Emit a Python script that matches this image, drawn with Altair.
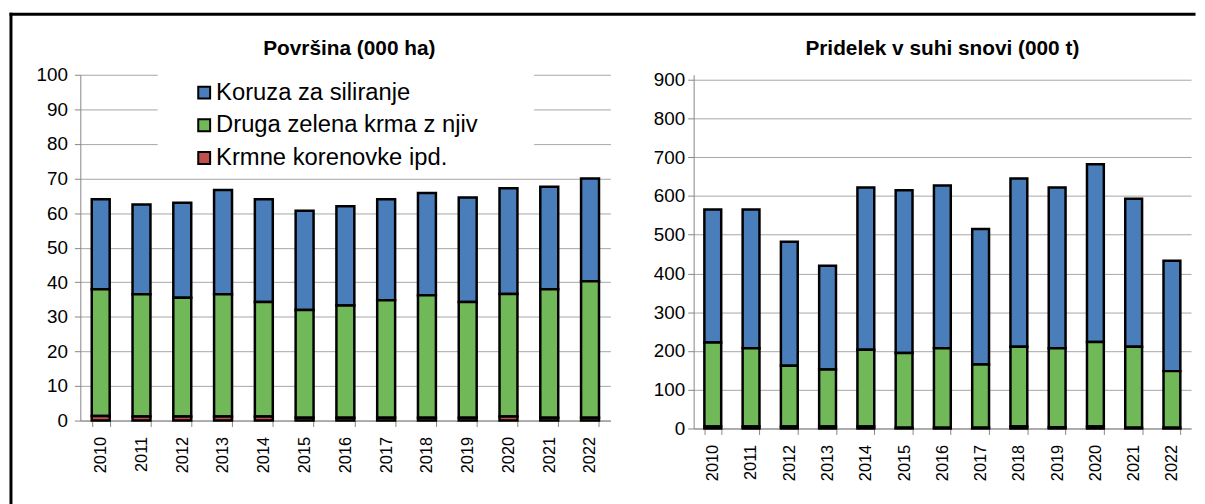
import altair as alt
import pandas as pd

years = [str(y) for y in range(2010, 2023)]
series = ["Koruza za siliranje", "Druga zelena krma z njiv", "Krmne korenovke ipd."]
colors = ["#4a7ebb", "#70b858", "#c0504d"]

# Površina (000 ha)
area_koruza = [26.0, 26.0, 27.5, 30.2, 29.7, 28.7, 28.7, 29.2, 29.6, 30.2, 30.6, 29.6, 29.7]
area_druga = [36.7, 35.3, 34.3, 35.3, 33.1, 31.2, 32.5, 34.0, 35.4, 33.5, 35.4, 37.2, 39.5]
area_krmne = [1.3, 1.2, 1.2, 1.2, 1.2, 0.8, 0.8, 0.8, 0.8, 0.8, 1.2, 0.8, 0.8]

# Pridelek v suhi snovi (000 t)
yield_koruza = [343, 358, 320, 268, 419, 420, 420, 350, 434, 415, 459, 382, 285]
yield_druga = [217, 202, 157, 147, 198, 193, 205, 163, 206, 204, 218, 209, 146]
yield_krmne = [5, 5, 5, 5, 5, 2, 2, 2, 5, 3, 5, 2, 2]

title_left = "Površina (000 ha)"
title_right = "Pridelek v suhi snovi (000 t)"
FONT = "Liberation Sans"


def long_df(kor, dru, krm):
    rows = []
    for i, yr in enumerate(years):
        for s, v, o in zip(series, (kor[i], dru[i], krm[i]), (2, 1, 0)):
            rows.append({"year": yr, "series": s, "value": v, "ord": o})
    return pd.DataFrame(rows)


one = pd.DataFrame({"k": [0]})

FRAME_X = -70
FRAME_Y = -61


def panel(df, title, ymax, ytop, step, w, h, legend, title_x, ylabpad, frame=False, cover=None):
    x = alt.X("year:N", sort=years, title=None,
              scale=alt.Scale(paddingInner=0.56, paddingOuter=0.28),
              axis=alt.Axis(labelAngle=270, labelFontSize=16.5, labelFont=FONT,
                            labelColor="black", tickBand="extent", tickSize=6,
                            tickColor="#868686", domainColor="#868686", labelPadding=10,
                            grid=False))
    y = alt.Y("value:Q", stack="zero", title=None,
              scale=alt.Scale(domain=[0, ytop], nice=False, zero=True),
              axis=alt.Axis(values=list(range(0, ymax + 1, step)), labelFontSize=19,
                            labelFont=FONT, labelColor="black", tickSize=6,
                            tickColor="#868686", domainColor="#868686",
                            gridColor="#a6a6a6", labelPadding=ylabpad, grid=True))
    layers = []
    if cover is not None:
        layers.append(
            alt.Chart(one).mark_rect(color="white").encode(
                x=alt.value(cover[0]), x2=alt.value(cover[1]),
                y=alt.value(cover[2]), y2=alt.value(cover[3]))
        )
    bars = alt.Chart(df).mark_bar(stroke="black", strokeWidth=2.5).encode(
        x=x, y=y,
        color=alt.Color("series:N", scale=alt.Scale(domain=series, range=colors),
                        legend=legend),
        order=alt.Order("ord:Q", sort="ascending"),
    )
    layers.append(bars)
    layers.append(
        alt.Chart(one).mark_text(text=title, font=FONT, fontSize=21, fontWeight="bold",
                                 align="center", baseline="middle", color="black").encode(
            x=alt.value(title_x), y=alt.value(-26))
    )
    if frame:
        layers.append(
            alt.Chart(one).mark_rule(color="black", strokeWidth=3, strokeCap="square").encode(
                x=alt.value(FRAME_X), x2=alt.value(1124), y=alt.value(FRAME_Y))
        )
        layers.append(
            alt.Chart(one).mark_rule(color="black", strokeWidth=3, strokeCap="square").encode(
                x=alt.value(FRAME_X), y=alt.value(FRAME_Y), y2=alt.value(445))
        )
    return alt.layer(*layers).properties(width=w, height=h)


legend = alt.Legend(orient="none", legendX=113, legendY=6, title=None, labelFont=FONT,
                    labelFontSize=24, labelColor="black", labelLimit=0, symbolType="square",
                    symbolSize=144, symbolStrokeColor="black", symbolStrokeWidth=2,
                    symbolOpacity=1, rowPadding=9, labelOffset=0)

WL, HL = 535, 349
WR, HR = 502, 357
SPACING = 84

left = panel(long_df(area_koruza, area_druga, area_krmne), title_left, 100, 100, 10, WL, HL,
             legend, WL / 2 + 4, 7, frame=True, cover=(78, 458, -3, 96))
right = panel(long_df(yield_koruza, yield_druga, yield_krmne), title_right, 900,
              900 * HR / 352, 100, WR, HR, None, WR / 2, 3)

chart = alt.hconcat(left, right, spacing=SPACING, bounds="flush").resolve_scale(
    color="independent"
).properties(
    padding={"left": 0, "top": 1, "right": 0, "bottom": 0}
).configure_view(stroke=None)

chart.save("out.html", embed_options={"renderer": "svg", "actions": False})
